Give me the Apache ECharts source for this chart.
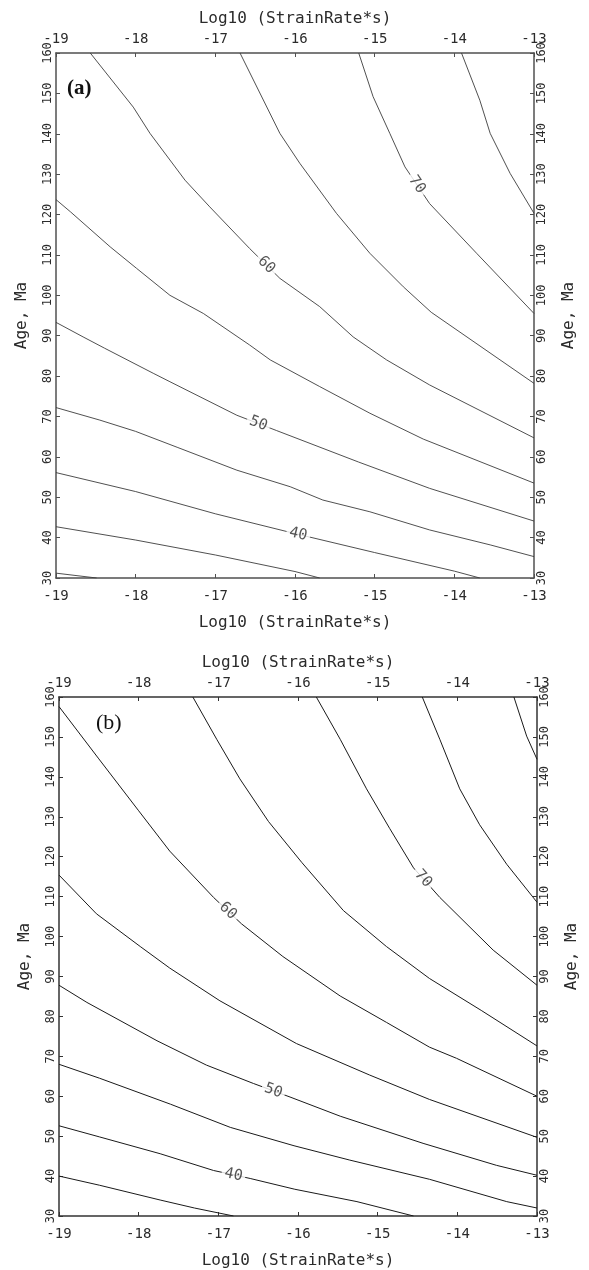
<!DOCTYPE html>
<html>
<head>
<meta charset="utf-8">
<script src="https://cdn.jsdelivr.net/npm/echarts@6/dist/echarts.min.js"></script>
<style>
  html, body { margin: 0; padding: 0; background: #fff; }
  #chart { width: 589px; height: 1270px; }
</style>
</head>
<body>
<div id="chart"></div>
<script>
// Axis ticks
const xTicks = [-19, -18, -17, -16, -15, -14, -13];
const yTicks = [30, 40, 50, 60, 70, 80, 90, 100, 110, 120, 130, 140, 150, 160];
const xName = 'Log10 (StrainRate*s)';
const yName = 'Age, Ma';

// Contour levels
const levelsA = [30, 35, 40, 45, 50, 55, 60, 65, 70, 75];
const levelsB = [35, 40, 45, 50, 55, 60, 65, 70, 75, 80];

// Panel (a) contours: [log10 strain rate, age in Ma]
const a30 = [[-19, 31.2], [-18.49, 30]];
const a35 = [[-19, 42.7], [-18, 39.4], [-17, 35.7], [-16, 31.6], [-15.69, 30]];
const a40 = [[-19, 56.1], [-18, 51.4], [-17, 45.9], [-16, 41.0], [-15, 36.3], [-14, 31.7], [-13.68, 30]];
const a45 = [[-19, 72.2], [-18.45, 69.1], [-18, 66.3], [-17.47, 62.3], [-16.73, 56.7], [-16.06, 52.6],
             [-15.65, 49.3], [-15.06, 46.4], [-14.31, 41.9], [-13.55, 38.2], [-13, 35.3]];
const a50 = [[-19, 93.3], [-18.66, 89.7], [-18.39, 86.9], [-17.78, 80.7], [-17.57, 78.6], [-16.73, 70.3],
             [-16.23, 66.5], [-15.2, 58.7], [-14.31, 52.2], [-13, 44.1]];
const a55 = [[-19, 123.7], [-18.82, 120.7], [-18.32, 112.0], [-17.99, 106.7], [-17.57, 100.0], [-17.15, 95.5],
             [-16.57, 87.7], [-16.31, 84.0], [-15.69, 77.4], [-15.06, 70.8], [-14.39, 64.4], [-13, 53.5]];
const a60 = [[-18.57, 160], [-18.03, 146.6], [-17.82, 140.1], [-17.38, 128.5], [-17.07, 121.9], [-16.57, 111.6],
             [-16.19, 104.2], [-15.69, 97.2], [-15.27, 89.7], [-14.85, 84.0], [-14.31, 77.8], [-13, 64.7]];
const a65 = [[-16.69, 160], [-16.19, 140.1], [-15.94, 132.7], [-15.48, 120.3], [-15.06, 110.4], [-14.64, 102.1],
             [-14.29, 95.8], [-13, 78.2]];
const a70 = [[-15.2, 160], [-15.02, 149.2], [-14.81, 140.1], [-14.62, 131.8], [-14.31, 122.7], [-13.72, 110.4],
             [-13, 95.5]];
const a75 = [[-13.91, 160], [-13.68, 148.3], [-13.55, 140.1], [-13.3, 130.2], [-13, 120.3]];

// Panel (b) contours
const b35 = [[-19, 40.0], [-18.49, 37.7], [-17.73, 34.0], [-17.3, 32.0], [-16.81, 30]];
const b40 = [[-19, 52.6], [-18.49, 49.8], [-17.73, 45.6], [-17.06, 41.4], [-16.6, 39.4], [-16.04, 36.7],
             [-15.26, 33.6], [-14.55, 30]];
const b45 = [[-19, 68.0], [-18.49, 64.5], [-17.6, 58.0], [-16.85, 52.2], [-16.05, 47.6], [-15.35, 44.0],
             [-14.35, 39.2], [-13.38, 33.6], [-13, 32.0]];
const b50 = [[-19, 87.8], [-18.65, 83.5], [-17.77, 73.9], [-17.15, 67.8], [-16.56, 63.2], [-16.1, 59.8],
             [-15.47, 55.0], [-14.43, 48.2], [-13.51, 42.7], [-13, 40.2]];
const b55 = [[-19, 115.4], [-18.53, 105.7], [-17.98, 97.5], [-17.61, 92.1], [-16.98, 83.9], [-16.02, 73.2],
             [-15.1, 65.3], [-14.35, 59.2], [-13, 49.7]];
const b60 = [[-19, 157.6], [-18.5, 144.5], [-18, 131.5], [-17.61, 121.4], [-17.06, 109.8], [-16.71, 103.2],
             [-16.19, 95.0], [-15.47, 85.1], [-14.89, 78.5], [-14.35, 72.3], [-14.01, 69.5], [-13, 60.0]];
const b65 = [[-17.32, 160], [-17.02, 149.4], [-16.73, 139.5], [-16.37, 128.8], [-15.95, 118.5], [-15.43, 106.5],
             [-14.89, 97.5], [-14.35, 89.5], [-13.7, 81.5], [-13, 72.6]];
const b70 = [[-15.77, 160], [-15.47, 149.4], [-15.14, 137.0], [-14.85, 127.1], [-14.55, 117.2], [-14.22, 109.8],
             [-13.55, 96.6], [-13, 87.8]];
const b75 = [[-14.44, 160], [-14.22, 149.4], [-13.97, 137.0], [-13.72, 128.0], [-13.38, 118.1], [-13, 108.6]];
const b80 = [[-13.29, 160], [-13.13, 150.2], [-13, 144.4]];

// Where the level numbers sit on their contours: [level, log10 strain rate]
const labelAtA = [[40, -15.96], [50, -16.46], [60, -16.36], [70, -14.47]];
const labelAtB = [[40, -16.81], [50, -16.31], [60, -16.88], [70, -14.43]];

const linesA = [a30, a35, a40, a45, a50, a55, a60, a65, a70, a75];
const linesB = [b35, b40, b45, b50, b55, b60, b65, b70, b75, b80];

const mono = 'DejaVu Sans Mono';
const ink = '#2b2b2b';

// age on a contour polyline at a given strain rate
function ageAt(pts, lr) {
  for (let i = 0; i < pts.length - 1; i++) {
    const [x0, y0] = pts[i], [x1, y1] = pts[i + 1];
    if (lr >= x0 && lr <= x1) return y0 + (y1 - y0) * (lr - x0) / (x1 - x0);
  }
  return pts[pts.length - 1][1];
}

function xAxis(gridIndex, position, frame) {
  const bottom = position === 'bottom';
  return {
    type: 'value', gridIndex, position,
    min: xTicks[0], max: xTicks[xTicks.length - 1], interval: xTicks[1] - xTicks[0],
    name: xName, nameLocation: 'middle', nameGap: bottom ? 37 : 26,
    nameTextStyle: { fontFamily: mono, fontSize: 16, color: ink },
    axisLine: { onZero: false, lineStyle: { color: frame, width: 1.5 } },
    axisTick: { inside: true, length: 4, lineStyle: { color: frame, width: 1 } },
    axisLabel: { fontFamily: mono, fontSize: 14, color: ink, margin: bottom ? 11 : 7 },
    splitLine: { show: false }
  };
}

function yAxis(gridIndex, position, frame) {
  return {
    type: 'value', gridIndex, position,
    min: yTicks[0], max: yTicks[yTicks.length - 1], interval: yTicks[1] - yTicks[0],
    name: yName, nameLocation: 'middle', nameRotate: 90, nameGap: position === 'left' ? 26 : 27,
    nameTextStyle: { fontFamily: mono, fontSize: 16, color: ink },
    axisLine: { onZero: false, lineStyle: { color: frame, width: 1.5 } },
    axisTick: { inside: true, length: 4, lineStyle: { color: frame, width: 1 } },
    axisLabel: { fontFamily: mono, fontSize: 12, color: ink, rotate: 90, margin: 2 },
    splitLine: { show: false }
  };
}

function contourSeries(lines, levels, gi, color, width) {
  return lines.map((pts, i) => ({
    name: 'level ' + levels[i], type: 'line',
    xAxisIndex: gi * 2, yAxisIndex: gi * 2,
    data: pts, symbol: 'none', showSymbol: false, smooth: false,
    silent: true, animation: false, clip: true, z: 2,
    lineStyle: { color, width }
  }));
}

function labelSeries(lines, levels, labelAt, gi) {
  return {
    type: 'scatter', xAxisIndex: gi * 2, yAxisIndex: gi * 2,
    symbol: 'circle', symbolSize: 1, itemStyle: { color: 'rgba(0,0,0,0)' },
    silent: true, animation: false, z: 5,
    data: labelAt.map(([lev, lr]) => {
      const pts = lines[levels.indexOf(lev)];
      return { value: [lr, ageAt(pts, lr), lev], label: { rotate: 0 } };
    }),
    label: {
      show: true, position: 'inside',
      formatter: p => String(p.value[2]),
      fontFamily: mono, fontSize: 15, color: ink,
      backgroundColor: '#fff', padding: [0, 3]
    }
  };
}

const frameA = '#505050';
const frameB = '#333333';

const option = {
  backgroundColor: '#fff',
  animation: false,
  title: [
    { text: '(a)', left: 62, top: 73,
      textStyle: { fontFamily: 'Liberation Serif', fontSize: 21, fontWeight: 'bold', color: '#111' } },
    { text: '(b)', left: 91, top: 707,
      textStyle: { fontFamily: 'Liberation Serif', fontSize: 22, fontWeight: 'normal', color: '#111' } }
  ],
  grid: [
    { left: 56, top: 53, width: 478, height: 525 },
    { left: 59, top: 697, width: 478, height: 526 }
  ],
  xAxis: [xAxis(0, 'bottom', frameA), xAxis(0, 'top', frameA), xAxis(1, 'bottom', frameB), xAxis(1, 'top', frameB)],
  yAxis: [yAxis(0, 'left', frameA), yAxis(0, 'right', frameA), yAxis(1, 'left', frameB), yAxis(1, 'right', frameB)],
  series: [
    ...contourSeries(linesA, levelsA, 0, '#3c3c3c', 0.9),
    ...contourSeries(linesB, levelsB, 1, '#1a1a1a', 1),
    labelSeries(linesA, levelsA, labelAtA, 0),
    labelSeries(linesB, levelsB, labelAtB, 1)
  ]
};

const chart = echarts.init(document.getElementById('chart'), null, { renderer: 'canvas' });
chart.setOption(option);

// turn each level number to follow the direction of its contour on screen
function orient(series, lines, levels, labelAt, gi) {
  series.data.forEach((item, k) => {
    const [lev, lr] = labelAt[k];
    const pts = lines[levels.indexOf(lev)];
    const d = 0.08;
    const p = chart.convertToPixel({ gridIndex: gi }, [lr - d, ageAt(pts, lr - d)]);
    const q = chart.convertToPixel({ gridIndex: gi }, [lr + d, ageAt(pts, lr + d)]);
    item.label.rotate = Math.atan2(p[1] - q[1], q[0] - p[0]) * 180 / Math.PI;
  });
}
const n = option.series.length;
orient(option.series[n - 2], linesA, levelsA, labelAtA, 0);
orient(option.series[n - 1], linesB, levelsB, labelAtB, 1);
chart.setOption(option);
</script>
</body>
</html>
